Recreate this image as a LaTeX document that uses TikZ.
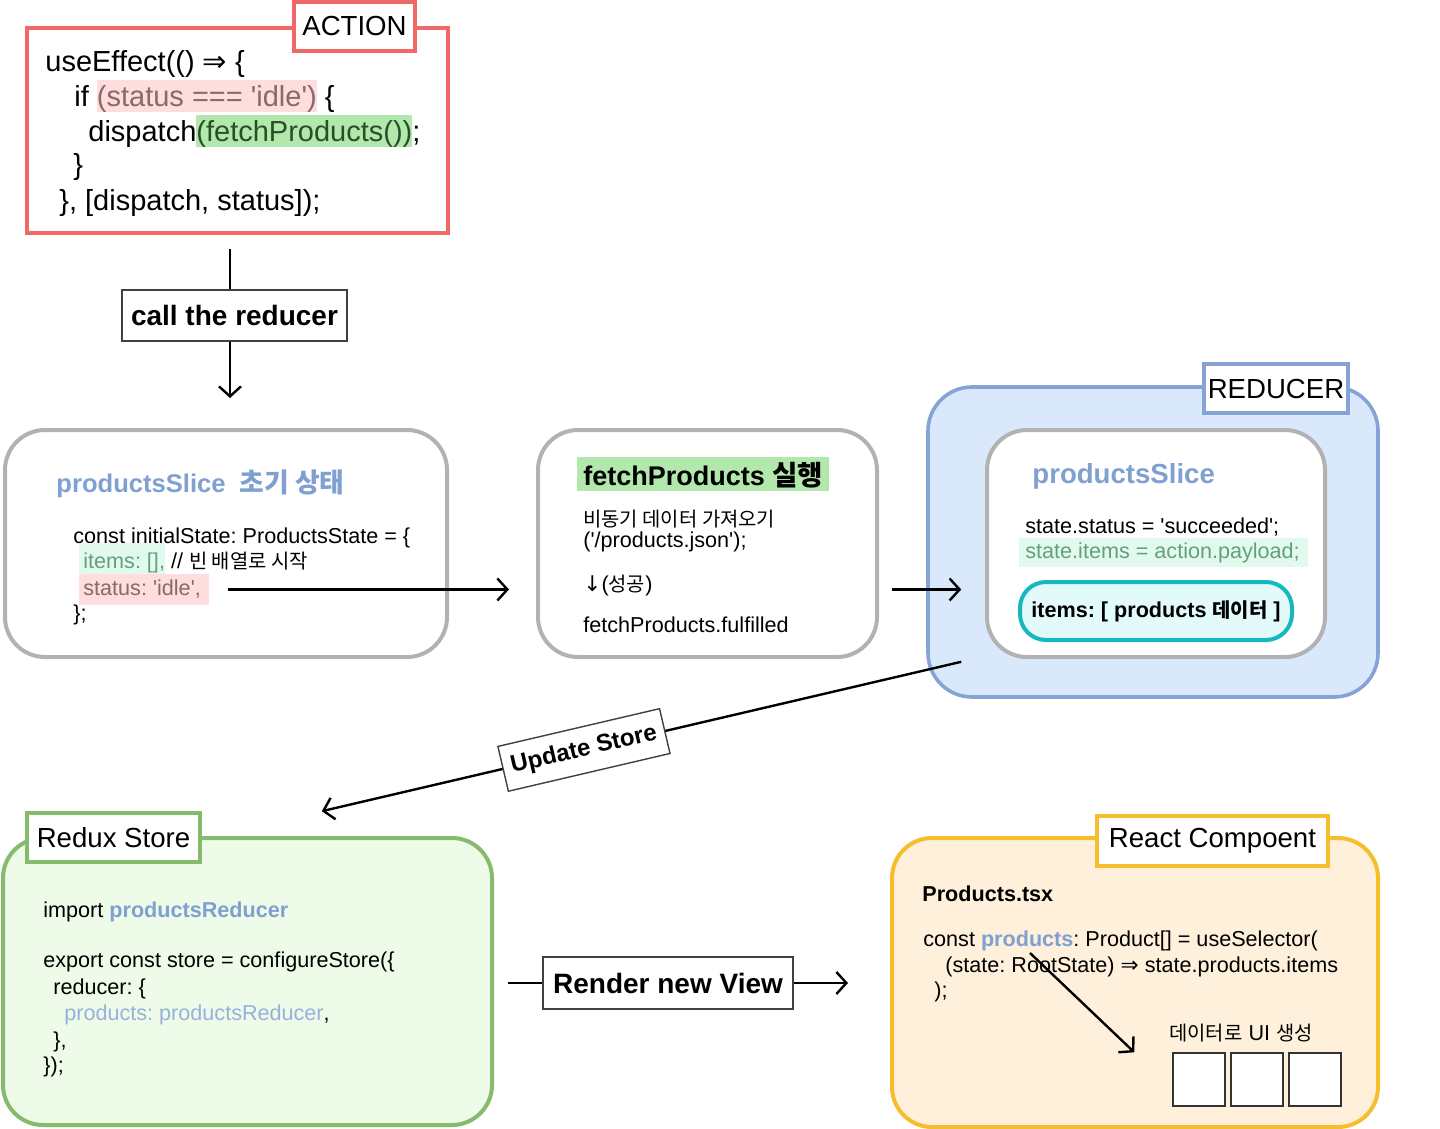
\documentclass[tikz,border=0pt]{standalone}
\usepackage{fontspec}
\setmainfont{Liberation Sans}[Ligatures=TeXOff]
\newfontfamily\krfont{Noto Sans CJK KR}[Scale=0.92]
\newfontfamily\dejavu{DejaVu Sans}
\usetikzlibrary{fit,arrows.meta}
\frenchspacing

\definecolor{actred}{RGB}{240,104,104}
\definecolor{pinkhl}{RGB}{253,221,221}
\definecolor{pinktx}{RGB}{140,104,104}
\definecolor{greenhl}{RGB}{178,232,172}
\definecolor{greentx}{RGB}{40,80,40}
\definecolor{minthl}{RGB}{226,250,238}
\definecolor{minttx}{RGB}{100,160,125}
\definecolor{slicegray}{RGB}{178,178,178}
\definecolor{titleblue}{RGB}{127,160,208}
\definecolor{codeblue}{RGB}{150,178,220}
\definecolor{bluefill}{RGB}{218,232,252}
\definecolor{blueline}{RGB}{133,163,212}
\definecolor{cyanline}{RGB}{22,184,192}
\definecolor{cyanfill}{RGB}{226,250,250}
\definecolor{storefill}{RGB}{238,251,232}
\definecolor{storeline}{RGB}{134,186,108}
\definecolor{reactfill}{RGB}{255,240,220}
\definecolor{reactline}{RGB}{246,190,44}

\newcommand\kr[1]{{\krfont #1}}
\newcommand\krbig[1]{{\krfont\fontsize{14.6}{17}\selectfont #1}}
\newcommand\sym[1]{{\dejavu #1}}
% highlight: background, text colour, total height, depth, text
\newcommand\hlt[5]{{\setlength{\fboxsep}{0pt}\colorbox{#1}{\rule[-#4]{0pt}{#3}\color{#2}#5}}}

\begin{document}
\begin{tikzpicture}[x=0.5pt,y=-0.5pt,
    box/.style={inner sep=0pt, line width=2pt, rounded corners=20pt},
    headbox/.style={inner sep=0pt, fill=white, line width=1.8pt},
    headtext/.style={inner sep=0pt, font=\fontsize{13.8}{16}\selectfont},
    flowbox/.style={inner sep=0pt, draw=black!75, fill=white, line width=0.7pt},
    flowtext/.style={inner sep=0pt, font=\bfseries\fontsize{14}{16}\selectfont},
    code/.style={anchor=base west, inner sep=0pt, font=\fontsize{10.8}{13}\selectfont},
    bigcode/.style={code, font=\fontsize{14.5}{17}\selectfont},
    arr/.style={-{Straight Barb[length=5pt,width=11pt]}, line width=1.2pt},
  ]
  \useasboundingbox (0,0) rectangle (1440,1129);

  % ACTION
  \node[box, fit={(27,28) (448,233)}, draw=actred, line width=1.8pt, rounded corners=0pt, fill=white] (action) {};
  \node[headbox, fit={(294,2) (415,51)}, draw=actred] (action-tag) {};
  \node[headtext] (action-text) at (action-tag) {ACTION};
  \node[bigcode] (act1) at (45,72) {useEffect(() \sym{⇒} \{};
  \node[bigcode] (act2) at (74,106) {if \hlt{pinkhl}{pinktx}{16pt}{3pt}{(status === 'idle')} \{};
  \node[bigcode] (act3) at (88,141) {dispatch\hlt{greenhl}{greentx}{16pt}{3pt}{(fetchProducts())};};
  \node[bigcode] (act4) at (73,175) {\}};
  \node[bigcode] (act5) at (59,210) {\}, [dispatch, status]);};

  \node[flowbox, fit={(122,290) (347,341)}] (call) {};
  \node[flowtext] (call-text) at (call) {call the reducer};

  % productsSlice initial state
  \node[box, fit={(5,430) (447,657)}, draw=slicegray, fill=white] (init) {};
  \node[code, font=\bfseries\fontsize{12.8}{15}\selectfont, text=titleblue] (init-title) at (56,492) {productsSlice\hspace{7pt}\krbig{초기 상태}};
  \node[code] (init1) at (73,543) {const initialState: ProductsState = \{};
  \node[code] (init2) at (79,568) {\hlt{minthl}{minttx}{16pt}{3.5pt}{\hspace{2pt}items: [],} // \kr{빈 배열로 시작}};
  \node[code] (init3) at (79,595) {\hlt{pinkhl}{pinktx}{15.5pt}{5pt}{\hspace{2pt}status: 'idle',\hspace{4pt}}};
  \node[code] (init4) at (73,620) {\};};

  % fetchProducts
  \node[box, fit={(538,430) (877,657)}, draw=slicegray, fill=white] (fetch) {};
  \node[code, font=\bfseries\fontsize{13.5}{16}\selectfont] (fetch-title) at (577,485) {\hlt{greenhl}{black}{17pt}{3pt}{\hspace{3pt}fetchProducts {\krfont\fontsize{15}{17}\selectfont 실행}\hspace{3pt}}};
  \node[code] (fetch1) at (583,526) {\kr{비동기 데이터 가져오기}};
  \node[code] (fetch2) at (583,547) {('/products.json');};
  \node[code] (fetch3) at (583,591) {\sym{↓}(\kr{성공})};
  \node[code] (fetch4) at (583,632) {fetchProducts.fulfilled};

  % REDUCER
  \node[box, fit={(928,387) (1378,697)}, draw=blueline, fill=bluefill, line width=1.8pt, rounded corners=22pt] (reducer) {};
  \node[headbox, fit={(1204,364) (1348,413)}, draw=blueline] (reducer-tag) {};
  \node[headtext] (reducer-text) at (reducer-tag) {REDUCER};
  \node[box, fit={(987,430) (1325,657)}, draw=slicegray, fill=white] (slice) {};
  \node[code, font=\bfseries\fontsize{13.8}{16}\selectfont, text=titleblue] (slice-title) at (1032,483) {productsSlice};
  \node[code] (slice1) at (1025,533) {state.status = 'succeeded';};
  \node[code] (slice2) at (1019,558) {\hlt{minthl}{minttx}{14.5pt}{4.5pt}{\hspace{3pt}state.items = action.payload;\hspace{4pt}}};
  \node[box, fit={(1020,582) (1292,640)}, draw=cyanline, fill=cyanfill, rounded corners=13pt] (items) {};
  \node[inner sep=0pt, font=\bfseries\fontsize{10.8}{13}\selectfont] (items-text) at (items) {items: [ products \kr{데이터} ]};

  % Redux Store
  \node[box, fit={(3,838) (492,1125)}, draw=storeline, fill=storefill] (store) {};
  \node[headbox, fit={(27,813) (200,862)}, draw=storeline] (store-tag) {};
  \node[headtext] (store-text) at (store-tag) {Redux Store};
  \node[code] (store1) at (43,917) {import \textcolor{titleblue}{\bfseries productsReducer}};
  \node[code] (store2) at (43,967) {export const store = configureStore(\{};
  \node[code] (store3) at (53,994) {reducer: \{};
  \node[code] (store4) at (64,1020) {\textcolor{codeblue}{products: productsReducer},};
  \node[code] (store5) at (53,1047) {\},};
  \node[code] (store6) at (43,1072) {\});};

  % React component
  \node[box, fit={(892,838) (1378,1127)}, draw=reactline, fill=reactfill] (react) {};
  \node[headbox, fit={(1097,816) (1328,866)}, draw=reactline] (react-tag) {};
  \node[headtext] (react-text) at (react-tag) {React Compoent};
  \node[code, font=\bfseries\fontsize{10.8}{13}\selectfont] (react-file) at (922,901) {Products.tsx};
  \node[code] (react1) at (923,946) {const \textcolor{titleblue}{\bfseries products}: Product[] = useSelector(};
  \node[code] (react2) at (945,972) {(state: RootState) \sym{⇒} state.products.items};
  \node[code] (react3) at (934,997) {);};
  \node[code] (react-ui) at (1169,1040) {\kr{데이터로} UI \kr{생성}};
  \foreach \i/\x in {1/1173, 2/1231, 3/1289}
    \node[fit={(\x,1053) (\x+52,1106)}, inner sep=0pt, draw=black!80, fill=white, line width=0.7pt] (sq\i) {};

  \node[flowbox, fit={(543,957) (793,1009)}] (render) {};
  \node[flowtext] (render-text) at (render) {Render new View};

  % connectors
  \draw[line width=1.3pt, shorten <=7pt] ([xshift=-2.25pt]action.south -| call) -- ([xshift=-2.25pt]call.north);
  \draw[arr, shorten >=15pt] ([xshift=-2.25pt]call.south) -- ([xshift=-2.25pt]call.south |- init.north);
  \draw[arr, shorten >=13.5pt] ([xshift=9.5pt]init3.east) -- (init3.east -| fetch.west);
  \draw[arr, shorten <=6.5pt] (fetch.east |- init3.east) -- ([xshift=17.5pt]reducer.west |- init3.east);

  \coordinate (upd-a) at ([shift={(35,-37)}]reducer.south west);
  \coordinate (upd-b) at ([xshift=60pt]store-tag.north east);
  \draw[arr] (upd-a) -- node[pos=0.59, sloped, flowbox, flowtext, font=\bfseries\fontsize{12}{14}\selectfont, minimum width=83pt, minimum height=23pt] (upd) {Update Store} (upd-b);

  \draw[line width=1.2pt, shorten <=7pt] (store.east |- render.west) -- (render.west);
  \draw[arr, shorten >=21pt] (render.east) -- (render.east -| react.west);

  \coordinate (ui-a) at (1030,953);
  \draw[arr] (ui-a) -- ([xshift=-19pt]sq1.north west);
\end{tikzpicture}
\end{document}
